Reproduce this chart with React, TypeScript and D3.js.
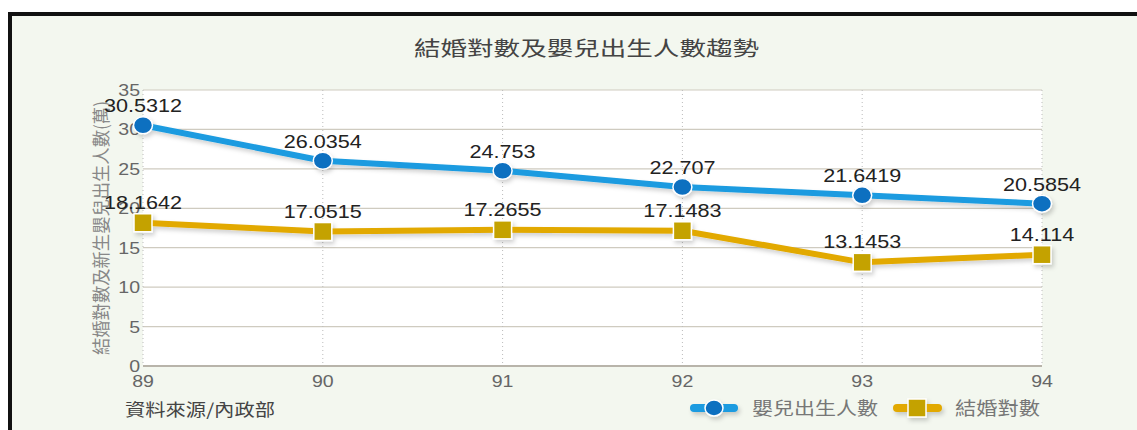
import React from 'react'
import * as d3 from 'd3'

const years = ['89', '90', '91', '92', '93', '94']
const births = [30.5312, 26.0354, 24.753, 22.707, 21.6419, 20.5854]
const marriages = [18.1642, 17.0515, 17.2655, 17.1483, 13.1453, 14.114]
const yTicks = [0, 5, 10, 15, 20, 25, 30, 35]

const W = 1137
const H = 430
const margin = { left: 143, right: 95, top: 90, bottom: 64 }

export default function App() {
  const x = d3
    .scalePoint<string>()
    .domain(years)
    .range([margin.left, W - margin.right])
  const y = d3
    .scaleLinear()
    .domain([0, 35])
    .range([H - margin.bottom, margin.top])

  const line = d3
    .line<number>()
    .x((_, i) => x(years[i])!)
    .y(d => y(d))

  const font = '"Liberation Sans", Arial, sans-serif'
  const cjk = '"Noto Sans CJK TC", "Noto Sans CJK SC", sans-serif'

  // the source image is stretched sideways, so labels get a horizontal scale
  const valueLabel = (v: number, i: number, dy: number, key: string) => (
    <text
      key={key}
      transform={`translate(${x(years[i])}, ${y(v) - dy}) scale(1.2, 1)`}
      textAnchor="middle"
      fontFamily={font}
      fontSize={18}
      fill="#222"
    >
      {v}
    </text>
  )

  return (
    <svg
      width={W}
      height={H}
      style={{ position: 'absolute', left: 0, top: 0, background: '#fff' }}
    >
      <defs>
        <filter id="shadow" x="-10%" y="-50%" width="120%" height="200%">
          <feDropShadow dx="2" dy="3" stdDeviation="2" floodColor="#000" floodOpacity="0.18" />
        </filter>
      </defs>

      {/* frame */}
      <rect x={10} y={14} width={W - 10} height={H - 14} fill="#f3f7ef" />
      <rect x={8} y={12} width={W - 8} height={4} fill="#111" />
      <rect x={8} y={12} width={4} height={H - 12} fill="#111" />

      <text
        x={414}
        y={56}
        textLength={345}
        lengthAdjust="spacingAndGlyphs"
        fontFamily={cjk}
        fontSize={20}
        fill="#444"
      >
        結婚對數及嬰兒出生人數趨勢
      </text>

      {/* plot area */}
      <rect
        x={margin.left}
        y={margin.top}
        width={W - margin.left - margin.right}
        height={H - margin.top - margin.bottom}
        fill="#fff"
      />

      {yTicks.map(t => (
        <g key={t}>
          <line
            x1={margin.left}
            x2={W - margin.right}
            y1={y(t)}
            y2={y(t)}
            stroke={t === 0 ? '#b8b4aa' : '#cfcbc0'}
            strokeWidth={t === 0 ? 2 : 1.2}
          />
          <text
            transform={`translate(${margin.left - 3}, ${y(t) + 6}) scale(1.15, 1)`}
            textAnchor="end"
            fontFamily={font}
            fontSize={17}
            fill="#666"
          >
            {t}
          </text>
        </g>
      ))}

      {years.map(yr => (
        <g key={yr}>
          <line
            x1={x(yr)}
            x2={x(yr)}
            y1={margin.top}
            y2={H - margin.bottom}
            stroke="#bbb"
            strokeWidth={1}
            strokeDasharray="1,3"
          />
          <text
            transform={`translate(${x(yr)}, ${H - margin.bottom + 21}) scale(1.15, 1)`}
            textAnchor="middle"
            fontFamily={font}
            fontSize={17}
            fill="#666"
          >
            {yr}
          </text>
        </g>
      ))}

      <text
        transform={`translate(108, ${(margin.top + H - margin.bottom) / 2}) rotate(-90)`}
        x={-127}
        textLength={254}
        lengthAdjust="spacingAndGlyphs"
        fontFamily={cjk}
        fontSize={18}
        fill="#888"
      >
        結婚對數及新生嬰兒出生人數(萬)
      </text>

      {/* marriages */}
      <g filter="url(#shadow)">
        <path
          d={line(marriages) || ''}
          fill="none"
          stroke="#e2a900"
          strokeWidth={6}
          strokeLinejoin="round"
        />
        {marriages.map((v, i) => (
          <rect
            key={i}
            x={x(years[i])! - 9}
            y={y(v) - 9}
            width={18}
            height={18}
            fill="#c4a200"
            stroke="#fff"
            strokeWidth={1.5}
          />
        ))}
      </g>

      {/* births */}
      <g filter="url(#shadow)">
        <path
          d={line(births) || ''}
          fill="none"
          stroke="#1a9be0"
          strokeWidth={6}
          strokeLinejoin="round"
        />
        {births.map((v, i) => (
          <ellipse
            key={i}
            cx={x(years[i])}
            cy={y(v)}
            rx={9.5}
            ry={8.5}
            fill="#0e6fc0"
            stroke="#fff"
            strokeWidth={1.5}
          />
        ))}
      </g>

      {births.map((v, i) => valueLabel(v, i, 13, 'b' + i))}
      {marriages.map((v, i) => valueLabel(v, i, 14, 'm' + i))}

      <text
        x={125}
        y={416}
        textLength={150}
        lengthAdjust="spacingAndGlyphs"
        fontFamily={cjk}
        fontSize={17}
        fill="#444"
      >
        資料來源/內政部
      </text>

      {/* legend */}
      <g filter="url(#shadow)">
        <line x1={694} x2={734} y1={408} y2={408} stroke="#1a9be0" strokeWidth={8} strokeLinecap="round" />
        <ellipse cx={714} cy={408} rx={9} ry={8} fill="#0e6fc0" stroke="#fff" strokeWidth={1.5} />
        <line x1={897} x2={938} y1={408} y2={408} stroke="#e2a900" strokeWidth={8} strokeLinecap="round" />
        <rect x={908} y={399} width={18} height={18} fill="#c4a200" stroke="#fff" strokeWidth={1.5} />
      </g>
      <text
        x={752}
        y={415}
        textLength={126}
        lengthAdjust="spacingAndGlyphs"
        fontFamily={cjk}
        fontSize={18}
        fill="#777"
      >
        嬰兒出生人數
      </text>
      <text
        x={955}
        y={415}
        textLength={85}
        lengthAdjust="spacingAndGlyphs"
        fontFamily={cjk}
        fontSize={18}
        fill="#777"
      >
        結婚對數
      </text>
    </svg>
  )
}
